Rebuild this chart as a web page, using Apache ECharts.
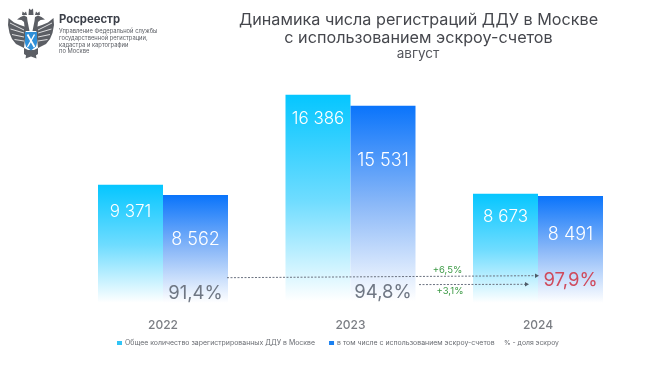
<!DOCTYPE html>
<html><head><meta charset="utf-8">
<style>html,body{margin:0;padding:0;background:#fff}#c{width:650px;height:366px}</style>
<script src="https://cdn.jsdelivr.net/npm/echarts@6/dist/echarts.min.js"></script>
</head><body><div id="c"></div>
<script>
const years = ['2022','2023','2024'];
const totalName = 'Общее количество зарегистрированных ДДУ в Москве';
const escrowName = 'в том числе с использованием эскроу-счетов';
const shareName = '% - доля эскроу';
const totalValues = [9371,16386,8673];
const escrowValues = [8562,15531,8491];
const shareValues = [91.4,94.8,97.9];
const deltaLabels = ['+6,5%','+3,1%'];

const FONT = 'Inter, "Noto Sans", sans-serif';
const fmt = v => String(v).replace(/\B(?=(\d{3})+$)/g,' ');
const totalLabelDy = [25,22,21];
const escrowLabelDy = [41,52,36];
const shareRise = [12,13,25];
const shareColor = ['#6f7784','#6f7784','#cf4a5c'];

const grad = (top,mid) => new echarts.graphic.LinearGradient(0,0,0,1,[
  {offset:0,color:top},{offset:.5,color:mid},{offset:.98,color:'#ffffff'},{offset:1,color:'#ffffff'}]);

function barSeries(name,values,dys,top,mid,size){
  return {type:'bar',name,barWidth:65,barGap:0,
    itemStyle:{color:grad(top,mid)},
    data:values.map((v,i)=>({value:v,label:{offset:[0,dys[i]-6]}})),
    label:{show:true,position:'insideTop',formatter:p=>fmt(p.value),color:'#fff',fontFamily:FONT,fontSize:size,fontWeight:300,distance:0}};
}
const chart = echarts.init(document.getElementById('c'),null,{renderer:'canvas'});
const arrow=(x1,y1,x2,y2)=>[
 {type:'line',shape:{x1,y1,x2:x2-4,y2},style:{stroke:'#6b7280',lineWidth:1,lineDash:[2,1.5]},z:20},
 {type:'polygon',shape:{points:[[x2,y2],[x2-4,y2-2.2],[x2-4,y2+2.2]]},style:{fill:'#4f5b68'},z:20}];
const gray='#3b3f48';
const eagle='#5b5e64';
const poly=(points,fill)=>({type:'polygon',shape:{points},style:{fill}});
const slit=(a,b)=>({type:'line',shape:{x1:a[0],y1:a[1],x2:b[0],y2:b[1]},style:{stroke:'#fff',lineWidth:.8}});
const wing=()=>[
 poly([[26,27],[20,25],[14,22.5],[8.5,18],[8,25],[9.5,33],[12,39],[16,44],[24,48],[25.5,34]],eagle),
 slit([24,30],[10,23]),slit([24,33],[10.5,29]),slit([24,37],[12,34.5]),slit([24,41],[14.5,39.5]),
 poly([[29.5,31],[27.5,21],[27,17],[24,15.5],[20.5,17],[17,19.5],[21.5,20],[24,22],[25,31]],eagle),
 poly([[22,15],[22.5,11.5],[24.5,13],[26,11.5],[27,15]],eagle),
 poly([[24,48],[28,50],[27,56],[24,54]],eagle)
];
chart.setOption({
  animation:false,backgroundColor:'#ffffff',
  grid:{left:69.25,right:18.25,top:48.3,height:256.7,containLabel:false},
  title:[
    {text:'Динамика числа регистраций ДДУ в Москве\nс использованием эскроу-счетов',left:413.5,top:6,textAlign:'center',
     textStyle:{fontFamily:FONT,fontSize:16.2,fontWeight:400,color:'#45474d',lineHeight:18}},
    {text:'август',left:413,top:42,textAlign:'center',textStyle:{fontFamily:FONT,fontSize:13.5,fontWeight:400,color:'#55575d'}}],
  legend:[
   {left:117,top:339.5,padding:0,itemWidth:5,itemHeight:4,itemGap:14,icon:'rect',
    textStyle:{fontFamily:FONT,fontSize:6.95,color:'#6a6d73',padding:[0,0,0,-2]},
    data:[{name:totalName,itemStyle:{color:'#30c4f6'}},{name:escrowName,itemStyle:{color:'#1a80f0'}}]},
   {left:504,top:339.5,padding:0,itemWidth:0,itemHeight:4,icon:'none',
    textStyle:{fontFamily:FONT,fontSize:6.8,color:'#6a6d73',padding:[0,0,0,-5]},
    data:[{name:shareName}]}],
  xAxis:{type:'category',data:years,axisLine:{show:false},axisTick:{show:false},
    axisLabel:{color:'#7b7e84',fontFamily:FONT,fontSize:12,fontWeight:500,margin:14.5}},
  yAxis:{type:'value',min:0,max:20000,show:false,splitLine:{show:false}},
  series:[
    barSeries(totalName,totalValues,totalLabelDy,'#05c6ff','#6edcff',17),
    barSeries(escrowName,escrowValues,escrowLabelDy,'#0a74fb','#8cb9f8',18),
    {type:'custom',name:shareName,z:10,coordinateSystem:'cartesian2d',data:shareValues.map((v,i)=>[i,v]),
     itemStyle:{color:'transparent'},
     renderItem:(params,api)=>{
       const i=api.value(0);const p=api.coord([i,0]);
       return {type:'text',x:p[0]+32.5,y:p[1]-shareRise[i],
         style:{text:api.value(1).toFixed(1).replace('.',',')+'%',fill:shareColor[i],font:'400 18.5px '+FONT,textAlign:'center',textVerticalAlign:'middle'}};
     }}
  ],
  graphic:[
    ...arrow(227,277.7,539,275.7),...arrow(419,284.6,529,284.3),
    {type:'text',x:447.5,y:270,style:{text:deltaLabels[0],fill:'#3c9a45',font:'400 9.5px '+FONT,textAlign:'center',textVerticalAlign:'middle'},z:21},
    {type:'text',x:450,y:291,style:{text:deltaLabels[1],fill:'#3c9a45',font:'400 9.5px '+FONT,textAlign:'center',textVerticalAlign:'middle'},z:21},
    {type:'group',children:wing()},
    {type:'group',x:62,scaleX:-1,children:wing()},
    poly([[28.5,15],[29,8.5],[31,10],[33,8.5],[33.5,15]],eagle),
    poly([[27,50],[35,50],[36.5,58.5],[31,56.5],[25.5,58.5]],eagle),
    poly([[25,32],[37,32],[37,43],[36,46.5],[31,50.5],[26,46.5],[25,43]],'#2f8fd8'),
    {type:'line',shape:{x1:27.5,y1:34.5,x2:34.5,y2:47},style:{stroke:'#fff',lineWidth:1.8}},
    {type:'line',shape:{x1:34.5,y1:34.5,x2:27.5,y2:47},style:{stroke:'#fff',lineWidth:1.4}},
    {type:'text',x:59,y:20,style:{text:'Росреестр',fill:gray,font:'700 11.3px '+FONT,textVerticalAlign:'middle'}},
    ...['Управление Федеральной службы','государственной регистрации,','кадастра и картографии','по Москве'].map((t,i)=>(
      {type:'text',x:59,y:31+i*6.9,style:{text:t,fill:'#5b5e64',font:'400 5.8px '+FONT,textVerticalAlign:'middle'}}))
  ]
});
</script></body></html>
